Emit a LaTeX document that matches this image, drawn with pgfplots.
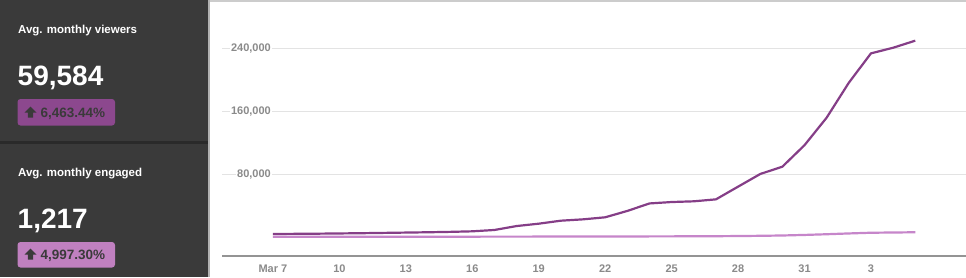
\documentclass[border=0pt]{standalone}
\usepackage{pgfplots}
\pgfplotsset{compat=1.18}
\usepackage{fontspec}
\setmainfont{Liberation Sans}
\definecolor{panel}{HTML}{3A3A3A}
\definecolor{sep}{HTML}{2A2A2A}
\definecolor{viewc}{RGB}{133,62,135}
\definecolor{engc}{RGB}{198,134,202}
\definecolor{badgeA}{RGB}{140,72,142}
\definecolor{badgeB}{RGB}{192,128,192}
\definecolor{badgetxt}{HTML}{3A3A3A}
\definecolor{ticktxt}{HTML}{8A8A8A}
\begin{document}
\begin{tikzpicture}[x=1pt,y=1pt]
\useasboundingbox (0,0) rectangle (966,277);
% left panel
\fill[panel] (0,0) rectangle (208,277);
\fill[sep] (0,133) rectangle (208,136.5);
\fill[black!30] (208,0) rectangle (209.5,277);
\fill[black!20] (209.5,275.5) rectangle (966,277);
% panel 1
\node[anchor=base west, inner sep=0, text=white, font=\bfseries\fontsize{11.5}{13}\selectfont] at (18,244) {Avg. monthly viewers};
\node[anchor=base west, inner sep=0, text=white, font=\bfseries\fontsize{28}{30}\selectfont] at (17.5,192) {59,584};
\fill[badgeA, rounded corners=3pt] (17.5,151.5) rectangle (115,178);
\fill[badgetxt] (30.5,170.5) -- (36.5,164.5) -- (33.2,164.5) -- (33.2,159.5) -- (27.8,159.5) -- (27.8,164.5) -- (24.5,164.5) -- cycle;
\node[anchor=base west, inner sep=0, text=badgetxt, font=\bfseries\fontsize{13.5}{15}\selectfont] at (40.5,160) {6,463.44\%};
% panel 2
\node[anchor=base west, inner sep=0, text=white, font=\bfseries\fontsize{11.5}{13}\selectfont] at (18,101) {Avg. monthly engaged};
\node[anchor=base west, inner sep=0, text=white, font=\bfseries\fontsize{28}{30}\selectfont] at (17.5,49) {1,217};
\fill[badgeB, rounded corners=3pt] (17.5,9.5) rectangle (115,35);
\fill[badgetxt] (30.5,28.5) -- (36.5,22.5) -- (33.2,22.5) -- (33.2,17.5) -- (27.8,17.5) -- (27.8,22.5) -- (24.5,22.5) -- cycle;
\node[anchor=base west, inner sep=0, text=badgetxt, font=\bfseries\fontsize{13.5}{15}\selectfont] at (40.5,18) {4,997.30\%};
\begin{axis}[
  at={(222pt,21pt)}, anchor=south west, scale only axis,
  width=744pt, height=256pt,
  xmin=-2.30, xmax=31.29, ymin=-23746, ymax=301333,
  axis x line*=bottom, axis y line*=left,
  x axis line style={-, draw=black!42, line width=2pt},
  y axis line style={draw=none},
  xtick={0,3,...,27},
  xticklabels={Mar 7,10,13,16,19,22,25,28,31,3},
  ytick={80000,160000,240000},
  yticklabels={{80,000},{160,000},{240,000}},
  scaled y ticks=false,
  major tick length=0pt,
  ymajorgrids, grid style={draw=black!11, line width=0.9pt},
  ticklabel style={font=\bfseries\fontsize{11}{13}\selectfont, text=ticktxt},
  yticklabel style={anchor=east, xshift=50pt, fill=white, inner sep=1pt},
  xticklabel style={yshift=-5pt},
  clip=false,
]
\addplot[viewc, line width=2.2pt, line join=round] coordinates {
(0,4200) (1,4400) (2,4600) (3,4900) (4,5200) (5,5600) (6,6000) (7,6400) (8,6900) (9,7600)
(10,9300) (11,14300) (12,17300) (13,21100) (14,22800) (15,25400) (16,33500) (17,43000) (18,44800) (19,45700)
(20,48200) (21,64300) (22,80400) (23,89700) (24,117000) (25,152000) (26,196300) (27,233600) (28,240700) (29,249700)
};
\addplot[engc, line width=2.2pt, line join=round] coordinates {
(0,700) (1,700) (2,700) (3,720) (4,740) (5,750) (6,760) (7,780) (8,800) (9,820)
(10,850) (11,880) (12,900) (13,950) (14,1000) (15,1050) (16,1100) (17,1150) (18,1200) (19,1300)
(20,1400) (21,1600) (22,1900) (23,2300) (24,3000) (25,3900) (26,4900) (27,5800) (28,6100) (29,6400)
};
\end{axis}
\end{tikzpicture}
\end{document}
